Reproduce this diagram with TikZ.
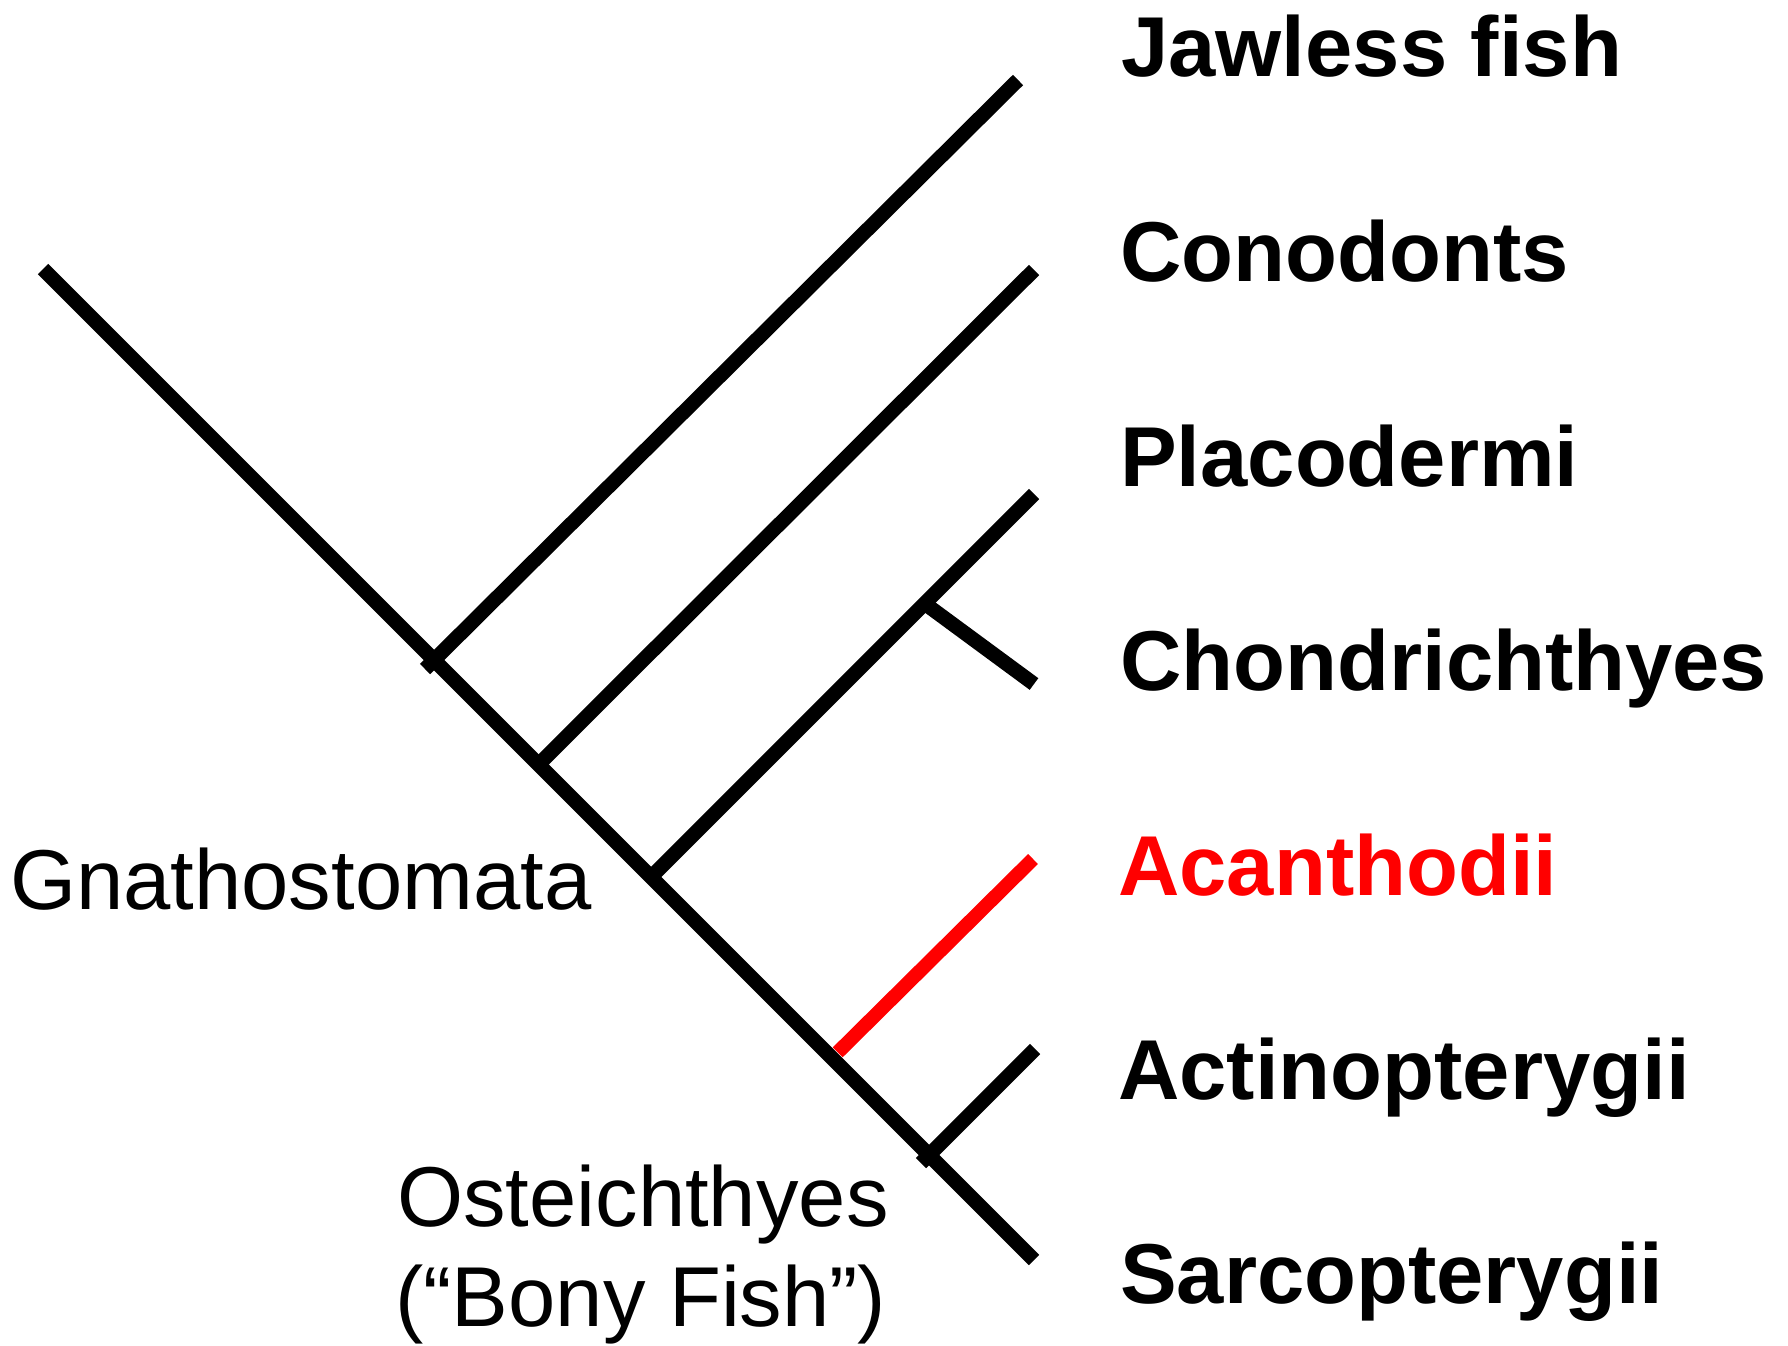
\documentclass[tikz,border=0pt]{standalone}
\usepackage{fontspec}
\setmainfont{Liberation Sans}
\begin{document}
\begin{tikzpicture}[x=1pt,y=-1pt,
  branch/.style={line width=14.5pt,line cap=butt,black},
  redbranch/.style={line width=14pt,line cap=butt,red},
  taxon/.style={anchor=base west,inner sep=0pt,font=\fontsize{85pt}{100pt}\selectfont\bfseries},
  clade/.style={anchor=base west,inner sep=0pt,font=\fontsize{85pt}{100pt}\selectfont}]
\useasboundingbox[fill=white] (0,0) rectangle (1788,1346);
% tree points
\coordinate (root) at (43,269);
\coordinate (n1) at (433,661);
\coordinate (n1s) at (425,669);
\coordinate (n2) at (539,764);
\coordinate (n3) at (652,876);
\coordinate (n4) at (924,603);
\coordinate (n5) at (929,1155);
\coordinate (n5s) at (921,1163);
\coordinate (acf) at (832,1058);
\coordinate (ejaw) at (1018,80);
\coordinate (econ) at (1034,270);
\coordinate (epla) at (1034,494);
\coordinate (echo) at (1034,684);
\coordinate (eaca) at (1033,859);
\coordinate (eact) at (1035,1049);
\coordinate (esar) at (1034,1260);
% trunk and branches
\draw[branch] (root) -- (esar);
\draw[branch] (n1s) -- (ejaw);
\draw[branch] (n2) -- (econ);
\draw[branch] (n3) -- (epla);
\draw[branch] (n4) -- (echo);
\draw[branch] (n5s) -- (eact);
\draw[redbranch,shorten <=8pt] (acf) -- (eaca);
% taxa
\node[taxon] (jaw) at (1121,77) {Jawless fish};
\node[taxon] (con) at (1120,281) {Conodonts};
\node[taxon] (pla) at (1120,486) {Placodermi};
\node[taxon] (cho) at (1120,690) {Chondrichthyes};
\node[taxon,text=red] (aca) at (1118,895) {Acanthodii};
\node[taxon] (act) at (1118,1099) {Actinopterygii};
\node[taxon] (sar) at (1120,1303) {Sarcopterygii};
% clades
\node[clade] (gna) at (10,909) {Gnathostomata};
\node[clade] (ost1) at (397,1226) {Osteichthyes};
\node[clade] (ost2) at (395,1326) {(“Bony Fish”)};
\end{tikzpicture}
\end{document}
